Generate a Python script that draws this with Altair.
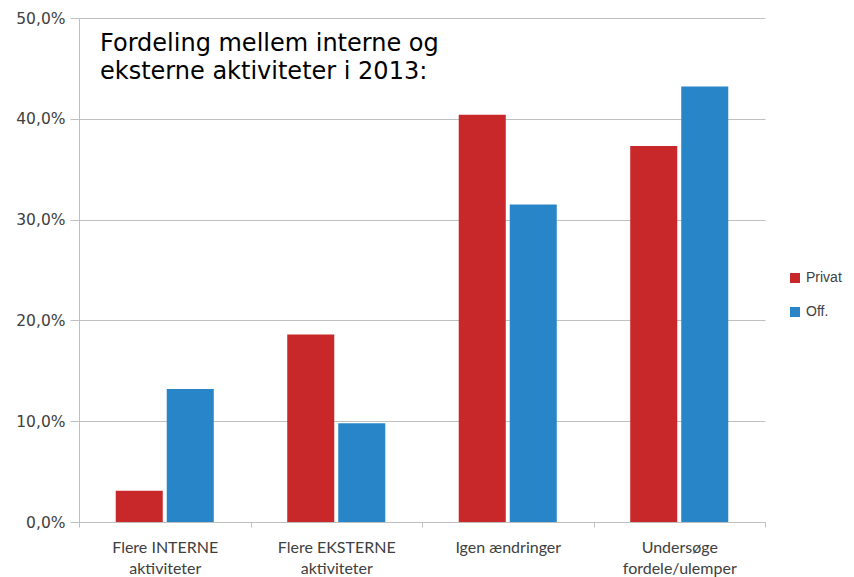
import altair as alt
import pandas as pd

categories = ["Flere INTERNE\naktiviteter", "Flere EKSTERNE\naktiviteter",
              "Igen ændringer", "Undersøge\nfordele/ulemper"]
series = ["Privat", "Off."]
privat = [0.031, 0.186, 0.404, 0.373]
off = [0.132, 0.098, 0.315, 0.432]
y_ticks = [0, 0.1, 0.2, 0.3, 0.4, 0.5]
title_lines = ["Fordeling mellem interne og", "eksterne aktiviteter i 2013:"]
colors = ["#C8282A", "#2886C8"]

rows = []
for c, p, o in zip(categories, privat, off):
    rows.append({"cat": c, "serie": "Privat", "v": p})
    rows.append({"cat": c, "serie": "Off.", "v": o})
df = pd.DataFrame(rows)

grey = "#BFBFBF"
txt = "#404040"

bars = alt.Chart(df).mark_bar().encode(
    x=alt.X("cat:N", sort=categories,
            scale=alt.Scale(paddingInner=0, paddingOuter=0),
            axis=alt.Axis(title=None, labelAngle=0, grid=False,
                          labelExpr="split(datum.label, '\\n')",
                          tickBand="extent", tickSize=5, tickColor=grey,
                          domainColor=grey, labelFont="Lato", labelFontSize=16,
                          labelColor=txt, labelPadding=12, labelLineHeight=21,
                          labelBaseline="top")),
    xOffset=alt.XOffset("serie:N", sort=series,
                        scale=alt.Scale(paddingInner=0.078, paddingOuter=0.72)),
    y=alt.Y("v:Q", scale=alt.Scale(domain=[0, 0.5]),
            axis=alt.Axis(title=None, values=y_ticks, grid=True, gridColor=grey,
                          domainColor=grey, tickColor=grey, tickSize=9,
                          labelPadding=5, labelFont="DejaVu Sans", labelFontSize=15.5,
                          labelColor=txt,
                          labelExpr="replace(format(datum.value, '.1%'), '.', ',')")),
    color=alt.Color("serie:N", sort=series,
                    scale=alt.Scale(domain=series, range=colors),
                    legend=alt.Legend(title=None, orient="none", legendX=709, legendY=253,
                                      symbolType="square", symbolSize=100,
                                      labelFont="Liberation Sans", labelFontSize=14,
                                      labelOffset=4, padding=0,
                                      labelColor=txt, rowPadding=20,
                                      symbolStrokeWidth=0)),
)

title = alt.Chart(pd.DataFrame({"t": [0]})).mark_text(
    text=title_lines, align="left", baseline="alphabetic", fontSize=24,
    font="DejaVu Sans", lineHeight=28, color="#000000"
).encode(x=alt.value(21), y=alt.value(33))

chart = alt.layer(bars, title).properties(
    width=686, height=504,
    autosize=alt.AutoSizeParams(type="none"),
    padding={"left": 71, "top": 10, "right": 81, "bottom": 55}
).configure_view(stroke=None)

chart.save("out.html", embed_options={"renderer": "svg", "actions": False})
